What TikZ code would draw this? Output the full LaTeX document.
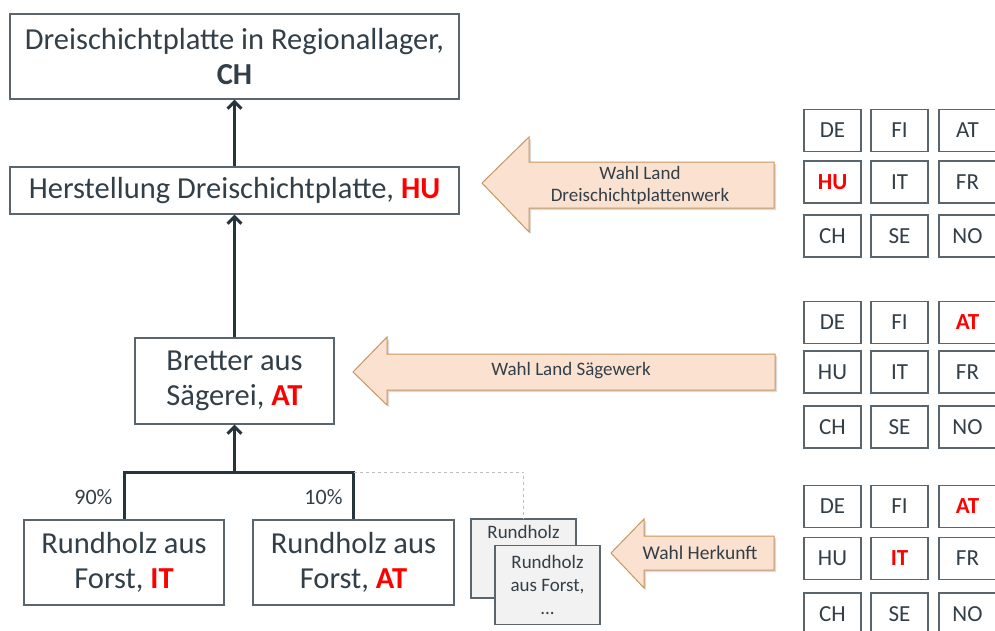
\documentclass[tikz,border=0pt]{standalone}
\usepackage{fontspec}
\setmainfont{Carlito}
\usetikzlibrary{arrows.meta,calc}
\definecolor{txt}{HTML}{333F48}
\definecolor{bord}{HTML}{5A656D}
\definecolor{conn}{HTML}{26343C}
\definecolor{redc}{HTML}{FF0000}
\definecolor{peach}{HTML}{FBE2D0}
\definecolor{peachb}{HTML}{C99561}
\definecolor{stackf}{HTML}{F3F2F2}
\tikzset{
  mainbox/.style={draw=bord, line width=1.2pt, fill=white, text=txt, align=center, inner sep=0pt, font=\fontsize{30.5}{35}\selectfont},
  cell/.style={draw=bord, line width=1.1pt, fill=white, text=txt, minimum width=57pt, minimum height=42pt, inner sep=0pt, font=\fontsize{23}{26}\selectfont},
  stackbox/.style={draw=bord, line width=1.2pt, fill=stackf, text=txt, align=center, inner sep=0pt, minimum width=105pt, minimum height=79pt, font=\fontsize{19}{23}\selectfont},
  bigarrow/.style={fill=peach, draw=peachb, line width=1pt},
  arrowshadow/.style={fill=black!14},
  arrowtxt/.style={text=txt, align=center, font=\fontsize{19}{22}\selectfont},
  flow/.style={draw=conn, line width=3pt},
  flowarrow/.style={flow, -{Straight Barb[length=7pt, width=14pt, line width=3pt]}},
  pct/.style={text=txt, anchor=east, font=\fontsize{22}{24}\selectfont},
}
\begin{document}
\begin{tikzpicture}[x=1pt, y=-1pt]
\useasboundingbox (0,0) rectangle (995,630);
\fill[white] (0,0) rectangle (995,630);
\begin{scope}
\clip (0,0) rectangle (995,630);

% main chain
\node[mainbox, minimum width=449pt, minimum height=85pt] (lager) at (234.5,56.5)
  {Dreischichtplatte in Regionallager,\\ \textbf{CH}};
\node[mainbox, minimum width=449pt, minimum height=47pt] (herst) at (234.5,190.5)
  {Herstellung Dreischichtplatte, {\color{redc}\bfseries HU}};
\node[mainbox, minimum width=199pt, minimum height=86pt] (bretter) at (234.5,381)
  {Bretter aus\\ Sägerei, {\color{redc}\bfseries AT}};
\node[mainbox, minimum width=200pt, minimum height=85pt] (rit) at (124,562.5)
  {Rundholz aus\\ Forst, {\color{redc}\bfseries IT}};
\node[mainbox, minimum width=201pt, minimum height=85pt] (rat) at (353.5,562.5)
  {Rundholz aus\\ Forst, {\color{redc}\bfseries AT}};

% stacked boxes
\node[stackbox] (sback) at (523.5,558.5) {};
\node[text=txt, font=\fontsize{19}{23}\selectfont, anchor=north] (sbacktxt) at ($(sback.north)+(0,3)$) {Rundholz};
\node[stackbox] (sfront) at (547.5,585) {Rundholz\\ aus Forst,\\ ...};

\coordinate (junc) at (234.5,472);
\draw[flowarrow] (junc) -- (bretter.south);
\draw[flow, line join=miter] (rit.north) -- (rit.north |- junc) -- (rat.north |- junc) -- (rat.north);
\draw[draw=gray!50, dashed, line width=0.8pt] (rat.north |- junc) -- (sback.north |- junc) -- (sback.north);
\draw[flowarrow] (bretter.north) -- (herst.south);
\draw[flowarrow] (herst.north) -- (lager.south);

\node[pct] (p90) at (116,497) {90\%};
\node[pct] (p10) at (346,497) {10\%};

% big arrows
\fill[arrowshadow] (484,185) -- (531,139) -- (531,164) -- (776,164) -- (776,210) -- (531,210) -- (531,234) -- cycle;
\draw[bigarrow] (482,183) -- (529,137) -- (529,162) -- (774,162) -- (774,208) -- (529,208) -- (529,232) -- cycle;
\node[arrowtxt] (a1) at (640,185) {Wahl Land\\ Dreischichtplattenwerk};

\fill[arrowshadow] (355,374) -- (389,339) -- (389,356) -- (777,356) -- (777,392) -- (389,392) -- (389,407) -- cycle;
\draw[bigarrow] (353,372) -- (387,337) -- (387,354) -- (775,354) -- (775,390) -- (387,390) -- (387,405) -- cycle;
\node[arrowtxt] (a2) at (571,371) {Wahl Land Sägewerk};

\fill[arrowshadow] (613,555) -- (646,521) -- (646,538) -- (776,538) -- (776,572) -- (646,572) -- (646,590) -- cycle;
\draw[bigarrow] (611,553) -- (644,519) -- (644,536) -- (774,536) -- (774,570) -- (644,570) -- (644,588) -- cycle;
\node[arrowtxt, font=\fontsize{19.5}{22}\selectfont] (a3) at (700,553) {Wahl Herkunft};

% grids
\foreach \g/\ya/\yb/\yc in {1/130.5/182/236, 2/322.5/372/427, 3/506.5/558.5/614} {
  \foreach \c/\xx in {1/832.5, 2/899.5, 3/967.5} {
    \foreach \r/\yy in {1/\ya, 2/\yb, 3/\yc} {
      \coordinate (g\g r\r c\c) at (\xx,\yy);
    }
  }
}
% grid 1
\node[cell] (g1a) at (g1r1c1) {DE};
\node[cell] (g1b) at (g1r1c2) {FI};
\node[cell] (g1c) at (g1r1c3) {AT};
\node[cell] (g1d) at (g1r2c1) {\color{redc}\bfseries HU};
\node[cell] (g1e) at (g1r2c2) {IT};
\node[cell] (g1f) at (g1r2c3) {FR};
\node[cell] (g1g) at (g1r3c1) {CH};
\node[cell] (g1h) at (g1r3c2) {SE};
\node[cell] (g1i) at (g1r3c3) {NO};
% grid 2
\node[cell] (g2a) at (g2r1c1) {DE};
\node[cell] (g2b) at (g2r1c2) {FI};
\node[cell] (g2c) at (g2r1c3) {\color{redc}\bfseries AT};
\node[cell] (g2d) at (g2r2c1) {HU};
\node[cell] (g2e) at (g2r2c2) {IT};
\node[cell] (g2f) at (g2r2c3) {FR};
\node[cell] (g2g) at (g2r3c1) {CH};
\node[cell] (g2h) at (g2r3c2) {SE};
\node[cell] (g2i) at (g2r3c3) {NO};
% grid 3
\node[cell] (g3a) at (g3r1c1) {DE};
\node[cell] (g3b) at (g3r1c2) {FI};
\node[cell] (g3c) at (g3r1c3) {\color{redc}\bfseries AT};
\node[cell] (g3d) at (g3r2c1) {HU};
\node[cell] (g3e) at (g3r2c2) {\color{redc}\bfseries IT};
\node[cell] (g3f) at (g3r2c3) {FR};
\node[cell] (g3g) at (g3r3c1) {CH};
\node[cell] (g3h) at (g3r3c2) {SE};
\node[cell] (g3i) at (g3r3c3) {NO};
\end{scope}
\end{tikzpicture}
\end{document}
